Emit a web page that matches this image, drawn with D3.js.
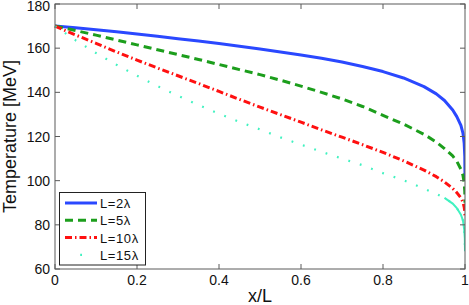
<!DOCTYPE html>
<html>
<head>
<meta charset="utf-8">
<script src="https://cdn.jsdelivr.net/npm/d3@7"></script>
<style>
  body { margin: 0; background: #fff; }
  svg { display: block; }
  text { font-family: "Liberation Sans", Arial, Helvetica, sans-serif; fill: #111; }
</style>
</head>
<body>
<svg id="chart" width="469" height="305"></svg>
<script>
// ---- data ----
const xGrid = [0, 0.05, 0.1, 0.15, 0.2, 0.25, 0.3, 0.35, 0.4, 0.45, 0.5, 0.55, 0.6, 0.65, 0.7, 0.75, 0.8, 0.85, 0.9, 0.93, 0.95, 0.97, 0.98, 0.99, 0.995, 0.998, 0.9995, 1];
const tL2  = [170, 169.2, 168.3, 167.4, 166.4, 165.4, 164.3, 163.2, 162.1, 160.9, 159.6, 158.3, 156.9, 155.4, 153.7, 151.7, 149.4, 146.5, 142.6, 139.3, 136.3, 132, 129, 125, 121.5, 117, 111, 101];
const tL5  = [170, 168, 165.9, 163.7, 161.5, 159.3, 157.1, 154.9, 152.6, 150.3, 148, 145.5, 142.8, 140, 137, 133.6, 129.6, 125.6, 121, 117.5, 114.5, 111.2, 108.8, 105.2, 102.5, 99, 95, 90];
const tL10 = [170, 166, 162.2, 158.3, 154.6, 151, 147.5, 144, 140.4, 136.8, 133.3, 129.9, 126.5, 123, 119.7, 116.3, 112.8, 109, 104.8, 101.8, 99.4, 96.5, 94.6, 92.2, 90.3, 88, 86, 84];
const tL15 = [170, 163.6, 157.8, 152.5, 147.5, 142.8, 138.4, 134.3, 130.3, 126.6, 123.2, 119.6, 116.3, 113.1, 110, 107, 103.4, 100.2, 96.4, 94, 92.2, 89.6, 87.6, 84.6, 82, 78, 74, 68];
const seriesNames = ["L=2\u03bb", "L=5\u03bb", "L=10\u03bb", "L=15\u03bb"];
const xTicks = [0, 0.2, 0.4, 0.6, 0.8, 1];
const yTicks = [60, 80, 100, 120, 140, 160, 180];
const xLabel = "x/L";
const yLabel = "Temperature [MeV]";

// ---- layout ----
const svg = d3.select("#chart");
const L = 55, R = 465, T = 4, B = 269;
const x = d3.scaleLinear().domain([0, 1]).range([L, R]);
const y = d3.scaleLinear().domain([60, 180]).range([B, T]);

const styles = [
  { color: "#2a48ff", width: 3,   dash: null },
  { color: "#1c9e1c", width: 3,   dash: "8,5" },
  { color: "#ff1010", width: 3,   dash: "7,3,1.5,3" },
  { color: "#40f2c0", width: 2.2, dash: "1.8,10.2" }
];
const seriesT = [tL2, tL5, tL10, tL15];

const line = d3.line().x(d => x(d[0])).y(d => y(d[1]));

svg.append("clipPath").attr("id", "clip").append("rect")
  .attr("x", L - 2).attr("y", T).attr("width", R - L + 2).attr("height", B - T);

const plot = svg.append("g").attr("clip-path", "url(#clip)");
seriesT.forEach((vals, i) => {
  const pts = xGrid.map((xv, j) => [xv, vals[j]]);
  const s = styles[i];
  plot.append("path").attr("d", line(pts)).attr("fill", "none")
    .attr("stroke", s.color).attr("stroke-width", s.width)
    .attr("stroke-dasharray", s.dash)
    .attr("stroke-linejoin", "round");
  if (i === 3) {
    // dense sampling near the wall renders as a continuous stroke
    const tail = pts.filter(p => p[0] >= 0.95);
    plot.append("path").attr("d", line(tail)).attr("fill", "none")
      .attr("stroke", s.color).attr("stroke-width", 2);
  }
});

// ---- axes box & ticks ----
const axisColor = "#5a5a5a";
svg.append("rect").attr("x", L).attr("y", T).attr("width", R - L).attr("height", B - T)
  .attr("fill", "none").attr("stroke", axisColor).attr("stroke-width", 1);

const tk = 5;
const gx = svg.append("g");
xTicks.forEach(v => {
  gx.append("line").attr("x1", x(v)).attr("x2", x(v)).attr("y1", B).attr("y2", B - tk).attr("stroke", axisColor);
  gx.append("line").attr("x1", x(v)).attr("x2", x(v)).attr("y1", T).attr("y2", T + tk).attr("stroke", axisColor);
  gx.append("text").attr("x", x(v)).attr("y", 285).attr("text-anchor", "middle")
    .attr("font-size", 14).text(d3.format("")(v));
});
const gy = svg.append("g");
yTicks.forEach(v => {
  gy.append("line").attr("x1", L).attr("x2", L + tk).attr("y1", y(v)).attr("y2", y(v)).attr("stroke", axisColor);
  gy.append("line").attr("x1", R).attr("x2", R - tk).attr("y1", y(v)).attr("y2", y(v)).attr("stroke", axisColor);
  gy.append("text").attr("x", 50).attr("y", Math.max(y(v) + 5, 11)).attr("text-anchor", "end")
    .attr("font-size", 14).text(v);
});

svg.append("text").attr("x", (L + R) / 2).attr("y", 301.5).attr("text-anchor", "middle")
  .attr("font-size", 18).text(xLabel);
svg.append("text").attr("transform", `translate(15.5,${(T + B) / 2}) rotate(-90)`)
  .attr("text-anchor", "middle").attr("font-size", 18).text(yLabel);

// ---- legend ----
const lg = svg.append("g");
lg.append("rect").attr("x", 59.5).attr("y", 192.5).attr("width", 86).attr("height", 72.5)
  .attr("fill", "#fff").attr("stroke", "#222").attr("stroke-width", 1);
seriesNames.forEach((name, i) => {
  const cy = 203 + i * 17.3;
  const s = styles[i];
  lg.append("line").attr("x1", 65).attr("x2", 97).attr("y1", cy).attr("y2", cy)
    .attr("stroke", s.color).attr("stroke-width", s.width)
    .attr("stroke-dasharray", i === 3 ? "0,15.2,1.8,100" : s.dash);
  lg.append("text").attr("x", 100).attr("y", cy + 5).attr("font-size", 13)
    .attr("letter-spacing", 0.6).text(name);
});
</script>
</body>
</html>
